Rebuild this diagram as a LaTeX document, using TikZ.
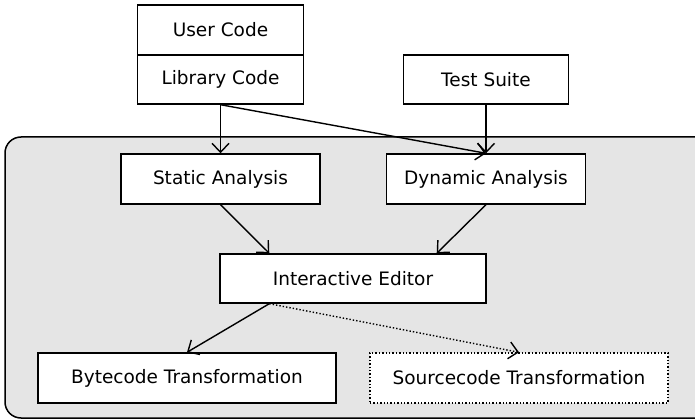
\documentclass[tikz,border=0pt]{standalone}
\usepackage{fontspec}
\setmainfont{DejaVu Sans}
\usetikzlibrary{arrows.meta,calc}
\definecolor{panel}{HTML}{E5E5E5}
\tikzset{
  box/.style={draw=black, fill=white, line width=1.4pt, inner sep=0pt, font=\fontsize{18.5}{21}\selectfont},
  arr/.style={line width=1.4pt, -{Straight Barb[length=9pt,width=17pt,line width=1.4pt]}},
}
\begin{document}
\begin{tikzpicture}[x=1pt,y=-1pt]
\useasboundingbox (0,0) rectangle (695,419);
\begin{scope}
\clip (0,0) rectangle (695,419);
\draw[fill=panel, line width=1.5pt, rounded corners=16pt] (5,137) rectangle (720,418);
\end{scope}
\node[box, minimum width=166pt, minimum height=50pt] (user) at (220.5,30) {User Code};
\node[box, minimum width=166pt, minimum height=49pt] (lib) at (220.5,79.5) {Library Code};
\node[box, minimum width=165pt, minimum height=49pt] (test) at (486,79.5) {Test Suite};
\node[box, minimum width=199pt, minimum height=50pt] (static) at (220.5,179) {Static Analysis};
\node[box, minimum width=199pt, minimum height=50pt] (dyn) at (486,179) {Dynamic Analysis};
\node[box, minimum width=266pt, minimum height=49pt] (edit) at (353,278.5) {Interactive Editor};
\node[box, minimum width=298pt, minimum height=50pt] (byte) at (187,378) {Bytecode Transformation};
\node[box, dotted, minimum width=298pt, minimum height=50pt] (src) at (519,378) {Sourcecode Transformation};
\coordinate (edin) at ($(edit.north west)+(50,0)$);
\coordinate (edin2) at ($(edit.north east)+(-50,0)$);
\coordinate (edout) at ($(edit.south west)+(50,0)$);
\draw[arr] (lib.south) -- (static.north);
\draw[arr] (lib.south) -- (dyn.north);
\draw[arr] (test.south) -- (dyn.north);
\draw[arr] (static.south) -- (edin);
\draw[arr] (dyn.south) -- (edin2);
\draw[arr] (edout) -- (byte.north);
\draw[arr, dotted] (edout) -- (src.north);
\end{tikzpicture}
\end{document}
